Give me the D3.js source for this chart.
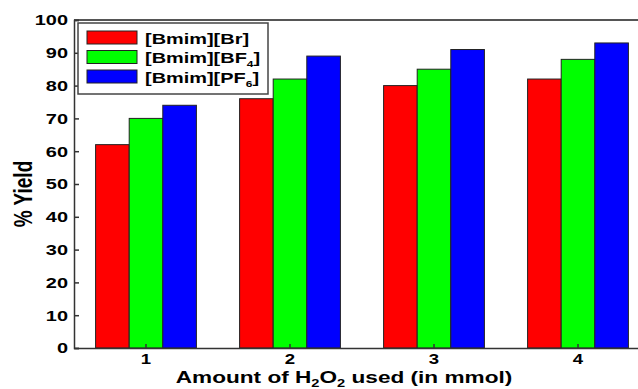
<!DOCTYPE html>
<html>
<head>
<meta charset="utf-8">
<script src="https://cdn.jsdelivr.net/npm/d3@7"></script>
<style>
  body { margin: 0; background: #fff; }
  text { font-family: "Liberation Sans", Arial, sans-serif; font-weight: bold; }
</style>
</head>
<body>
<script>
// data
var categories = ["1", "2", "3", "4"];
var seriesNames = ["Br", "BF4", "PF6"];
var brValues = [62, 76, 80, 82];
var bf4Values = [70, 82, 85, 88];
var pf6Values = [74, 89, 91, 93];
var yTicks = [0, 10, 20, 30, 40, 50, 60, 70, 80, 90, 100];
var colors = ["#ff0000", "#00ff00", "#0000ff"];

var allValues = [brValues, bf4Values, pf6Values];

var W = 638, H = 389;
var margin = {top: 20, left: 74, bottom: 41};
var plotBottom = H - margin.bottom; // 348
var sx = 1.33; // the original picture is stretched sideways, text too

var svg = d3.select("body").append("svg")
  .attr("width", W)
  .attr("height", H);

// x scale runs past the window edge (right side cut in original)
var x0 = d3.scaleBand()
  .domain(categories)
  .range([margin.left, margin.left + 576])
  .paddingInner(0.3)
  .paddingOuter(0.15);

var x1 = d3.scaleBand()
  .domain(seriesNames)
  .range([0, x0.bandwidth()]);

var y = d3.scaleLinear()
  .domain([0, 100])
  .range([plotBottom, margin.top]);

// bars
var groups = svg.append("g").attr("id", "bars")
  .selectAll("g")
  .data(categories)
  .enter().append("g")
  .attr("transform", function(d) { return "translate(" + x0(d) + ",0)"; });

groups.selectAll("rect")
  .data(function(d, i) {
    return seriesNames.map(function(s, j) { return {s: s, v: allValues[j][i], j: j}; });
  })
  .enter().append("rect")
  .attr("x", function(d) { return x1(d.s); })
  .attr("y", function(d) { return y(d.v); })
  .attr("width", x1.bandwidth())
  .attr("height", function(d) { return plotBottom - y(d.v); })
  .attr("fill", function(d) { return colors[d.j]; })
  .attr("stroke", "#222")
  .attr("stroke-width", 1);

// top frame line
svg.append("line")
  .attr("x1", margin.left).attr("x2", W)
  .attr("y1", margin.top).attr("y2", margin.top)
  .attr("stroke", "#555").attr("stroke-width", 2);

// y axis, ticks pointing inward
var yAxis = svg.append("g")
  .attr("transform", "translate(" + margin.left + ",0)")
  .call(d3.axisRight(y).tickValues(yTicks).tickSize(5).tickFormat(d3.format("d")));
yAxis.select(".domain").attr("stroke", "#333").attr("stroke-width", 1.5);
yAxis.selectAll(".tick line").attr("stroke", "#333").attr("stroke-width", 1.5);
yAxis.selectAll(".tick text")
  .attr("x", 0)
  .attr("transform", "translate(-6,0) scale(" + sx + ",1)")
  .attr("text-anchor", "end")
  .style("font-size", "15px")
  .attr("fill", "#000");

// x axis, ticks pointing inward
var xAxis = svg.append("g")
  .attr("transform", "translate(0," + plotBottom + ")")
  .call(d3.axisTop(x0).tickSize(4).tickSizeOuter(0));
xAxis.select(".domain").attr("stroke", "#333").attr("stroke-width", 1.5);
xAxis.selectAll(".tick line").attr("stroke", "#333").attr("stroke-width", 1.5);
xAxis.selectAll(".tick text")
  .attr("y", 0)
  .attr("dy", 0)
  .attr("transform", "translate(0,15.5) scale(" + sx + ",1)")
  .style("font-size", "14px")
  .attr("fill", "#000");

// axis titles
svg.append("text")
  .attr("transform", "translate(32,194) scale(" + sx + ",1) rotate(-90)")
  .attr("text-anchor", "middle")
  .style("font-size", "19px")
  .text("% Yield");

var xt = svg.append("text")
  .attr("transform", "translate(344,383) scale(" + sx + ",1)")
  .attr("text-anchor", "middle")
  .style("font-size", "17px");
xt.append("tspan").text("Amount of H");
xt.append("tspan").attr("dy", 3.5).style("font-size", "11px").text("2");
xt.append("tspan").attr("dy", -3.5).text("O");
xt.append("tspan").attr("dy", 3.5).style("font-size", "11px").text("2");
xt.append("tspan").attr("dy", -3.5).text(" used (in mmol)");

// legend
var legend = svg.append("g").attr("id", "legend");
legend.append("rect")
  .attr("x", 78).attr("y", 23)
  .attr("width", 190).attr("height", 71)
  .attr("fill", "#fff")
  .attr("stroke", "#444").attr("stroke-width", 1.5);

var legendLabels = [["[Bmim][Br]", ""], ["[Bmim][BF", "4"], ["[Bmim][PF", "6"]];
legendLabels.forEach(function(lab, i) {
  var yy = 31 + i * 19.5;
  legend.append("rect")
    .attr("x", 87).attr("y", yy)
    .attr("width", 50).attr("height", 13)
    .attr("fill", colors[i])
    .attr("stroke", "#222").attr("stroke-width", 1);
  var t = legend.append("text")
    .attr("transform", "translate(145," + (yy + 12.5) + ") scale(" + sx + ",1)")
    .style("font-size", "15px");
  t.append("tspan").text(lab[0]);
  if (lab[1] !== "") {
    t.append("tspan").attr("dy", 4).style("font-size", "9px").text(lab[1]);
    t.append("tspan").attr("dy", -4).text("]");
  }
});
</script>
</body>
</html>
